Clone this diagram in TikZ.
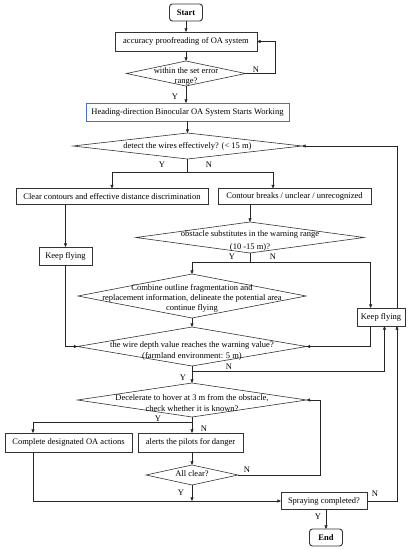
\documentclass[tikz,border=0pt]{standalone}
\usepackage{fontspec}
\setmainfont{Liberation Serif}
\usetikzlibrary{shapes.geometric,arrows.meta}
\definecolor{boxblue}{RGB}{68,114,196}
\begin{document}
\begin{tikzpicture}[x=1pt,y=-1pt,
  every node/.style={font=\fontsize{8.5}{10}\selectfont},
  ln/.style={draw=black!85, line width=0.55pt},
  arr/.style={ln, -{Triangle[length=3.6pt,width=3pt]}},
  box/.style={draw=black!80, line width=0.6pt, rectangle, inner sep=0pt, outer sep=0pt},
  term/.style={box, rounded corners=3pt, line width=0.9pt, font=\fontsize{8.5}{10}\selectfont\bfseries},
  dia/.style={draw=black!80, line width=0.6pt, diamond, inner sep=0pt, outer sep=0pt},
  txt/.style={align=center, inner sep=0pt},
  lbl/.style={inner sep=0pt}]
\path[use as bounding box] (0,0) rectangle (414,550);

% nodes
\node[term, minimum width=33pt, minimum height=17pt] (start) at (186,12.5) {Start};
\node[box, minimum width=142pt, minimum height=19pt] (b1) at (186,41.5) {accuracy proofreading of OA system};
\node[dia, minimum width=119pt, minimum height=25pt] (d1) at (186,73.5) {};
\node[txt, font=\fontsize{8.5}{10}\selectfont] (t1) at (186,76) {within the set error\\range?};
\node[box, draw=boxblue, minimum width=203pt, minimum height=18pt] (b2) at (187.5,112) {Heading-direction Binocular OA System Starts Working};
\node[dia, minimum width=229pt, minimum height=26pt] (d2) at (187.5,146) {};
\node[txt] (t2) at (187.5,146) {detect the wires effectively? (< 15 m)};
\node[box, minimum width=192pt, minimum height=16pt] (b3) at (112,196.5) {Clear contours and effective distance discrimination};
\node[box, minimum width=153pt, minimum height=16pt] (b4) at (294.5,196.5) {Contour breaks / unclear / unrecognized};
\node[dia, minimum width=228pt, minimum height=31pt] (d3) at (250,237.5) {};
\node[txt, font=\fontsize{8.5}{13}\selectfont] (t3) at (250,241) {obstacle substitutes in the warning range\\(10 -15 m)?};
\node[box, minimum width=53pt, minimum height=18pt] (kf1) at (65.5,256) {Keep flying};
\node[dia, minimum width=228pt, minimum height=44pt] (d4) at (192,296) {};
\node[txt, font=\fontsize{8.5}{10.3}\selectfont] (t4) at (192,298.5) {Combine outline fragmentation and\\replacement information, delineate the potential area\\continue flying};
\node[dia, minimum width=229pt, minimum height=39pt] (d5) at (192,346.5) {};
\node[txt, font=\fontsize{8.5}{11}\selectfont] (t5) at (192,350.5) {the wire depth value reaches the warning value?\\(farmland environment: 5 m)};
\node[box, minimum width=48pt, minimum height=18pt] (kf2) at (381,317) {Keep flying};
\node[dia, minimum width=229pt, minimum height=34pt] (d6) at (192,400) {};
\node[txt, font=\fontsize{8.5}{11}\selectfont] (t6) at (192,403) {Decelerate to hover at 3 m from the obstacle,\\check whether it is known?};
\node[box, minimum width=127pt, minimum height=19pt] (b7) at (68.5,442.5) {Complete designated OA actions};
\node[box, minimum width=105pt, minimum height=19pt] (b8) at (190.5,442.5) {alerts the pilots for danger};
\node[dia, minimum width=92pt, minimum height=20pt] (d7) at (192,475) {};
\node[txt] (t7) at (192,474) {All clear?};
\node[box, minimum width=86pt, minimum height=17pt] (sp) at (324,501) {Spraying completed?};
\node[term, minimum width=33pt, minimum height=17pt] (end) at (326,537.5) {End};

% junction coordinates
\coordinate (j1) at (187.5,172);
\coordinate (j2) at (250,262.5);
\coordinate (j3) at (192,371.5);
\coordinate (j4) at (192,422.3);

% connectors
\draw[arr] (start.south) -- (b1.north);
\draw[arr] (b1.south) -- (d1.north);
\draw[arr] (d1.east) -- ++(30,0) |- (b1.east);
\draw[arr] (d1.south) -- (d1.south |- b2.north);
\draw[arr] (b2.south) -- (b2.south |- d2.north);
\draw[ln] (d2.south) -- (j1);
\draw[arr] (j1) -| (b3.north);
\draw[arr] (j1) -| ([xshift=-21.5pt]b4.north);
\draw[arr] (kf1.north |- b3.south) -- (kf1.north);
\draw[arr] (d3.north |- b4.south) -- (d3.north);
\draw[ln] (d3.south) -- (j2);
\draw[arr] (j2) -| (d4.north);
\draw[arr] (j2) -| ([xshift=-10.3pt]kf2.north);
\draw[arr] (kf1.south) |- (d5.west);
\draw[arr] (d4.south) -- (d5.north);
\draw[arr] ([xshift=-10.3pt]kf2.south) |- (d5.east);
\draw[arr] ([xshift=16pt]kf2.north) |- (d2.east);
\draw[ln] (d5.south) -- (j3);
\draw[arr] (j3) -| ([xshift=3.5pt]kf2.south);
\draw[arr] (j3) -- (d6.north);
\draw[ln] (d6.south) -- (j4);
\draw[arr] (j4) -| ([xshift=-35.5pt]b7.north);
\draw[arr] (j4) -- (j4 |- b8.north);
\draw[arr] (j4 |- b8.south) -- (d7.north);
\draw[arr] (d7.east) -- (320,475) |- (d6.east);
\draw[arr] (d7.south) -- (d7.south |- sp.west);
\draw[arr] ([xshift=-35.5pt]b7.south) |- (sp.west);
\draw[arr] (sp.east) -| ([xshift=16pt]kf2.south);
\draw[arr] (end.north |- sp.south) -- (end.north);

% labels
\node[lbl] (n1) at (256,70) {N};
\node[lbl] (y1) at (175,97) {Y};
\node[lbl] (y2) at (162,165) {Y};
\node[lbl] (n2) at (209,165) {N};
\node[lbl] (y3) at (232,257) {Y};
\node[lbl] (n3) at (273,257) {N};
\node[lbl] (n4) at (229,367) {N};
\node[lbl] (y4) at (183,378) {Y};
\node[lbl] (y5) at (158,419) {Y};
\node[lbl] (n5) at (204,429) {N};
\node[lbl] (n6) at (247,470) {N};
\node[lbl] (y6) at (181,493) {Y};
\node[lbl] (n7) at (375,494) {N};
\node[lbl] (y7) at (318,517) {Y};
\end{tikzpicture}
\end{document}
